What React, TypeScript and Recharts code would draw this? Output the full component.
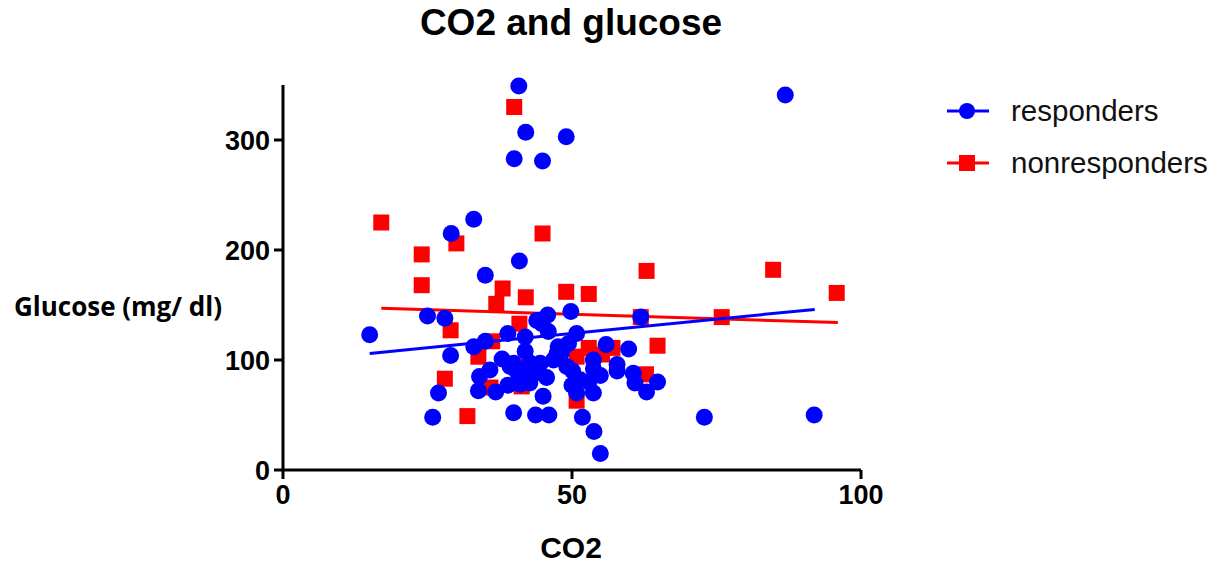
import { ScatterChart, Scatter, XAxis, YAxis } from "recharts";

const TITLE = "CO2 and glucose";
const X_LABEL = "CO2";
const Y_LABEL = "Glucose (mg/ dl)";
const SERIES = ["responders", "nonresponders"];
const X_TICKS = [0, 50, 100];
const Y_TICKS = [0, 100, 200, 300];

// [CO2, glucose]
const responders = [
    [40.8, 349], [86.9, 341], [42.0, 307], [49.0, 303], [40.0, 283], [44.9, 281], [33.0, 228], [29.1, 215],
    [40.9, 190], [35.0, 177], [15.0, 123], [25.0, 140], [28.0, 138], [29.0, 104], [26.9, 70], [25.9, 48],
    [33.0, 112], [35.0, 117], [38.9, 124], [41.9, 121], [43.9, 136], [45.8, 141], [44.8, 133], [45.9, 126],
    [49.8, 144], [50.8, 124], [61.9, 139], [55.9, 114], [59.8, 110], [57.8, 96], [57.8, 90], [53.7, 100],
    [53.7, 92], [54.9, 86], [60.6, 88], [60.9, 79], [62.9, 71], [64.8, 80], [52.9, 80], [53.7, 70],
    [50.8, 70], [50.0, 77], [47.6, 112], [47.4, 106], [46.8, 100], [49.1, 94], [50.1, 90], [45.6, 84],
    [45.0, 67], [43.7, 50], [46.0, 50], [51.8, 48], [53.8, 35], [54.9, 15], [72.9, 48], [91.9, 50],
    [39.9, 52], [33.8, 72], [36.8, 71], [34.0, 85], [35.8, 91], [37.9, 101], [39.3, 94], [40.5, 89],
    [41.9, 108], [41.9, 89], [38.9, 77], [41.0, 78], [42.7, 79], [43.6, 88], [44.5, 97], [42.8, 97],
    [49.4, 115], [51.4, 82], [39.9, 97], [48.2, 107],
];

const nonresponders = [
    [40.0, 330], [17.0, 225], [24.0, 196], [30.0, 206], [44.9, 215], [24.0, 168], [38.0, 165], [49.0, 162],
    [52.9, 160], [62.9, 181], [84.8, 182], [95.8, 161], [75.9, 139], [36.9, 151], [42.0, 157], [29.0, 127],
    [40.9, 133], [36.2, 117], [33.8, 103], [28.0, 83], [31.9, 49], [50.8, 63], [64.8, 113], [61.9, 139],
    [62.8, 87], [52.9, 111], [57.0, 111], [50.8, 103], [35.9, 75], [41.3, 76], [42.0, 94], [55.2, 105],
];

// fitted line end points as drawn
const responderFit = [[15, 106], [92, 146]];
const nonresponderFit = [[17, 147], [96, 134]];

const BLUE = "#0000ff";
const RED = "#ff0000";

const toPoints = (arr: number[][]) => arr.map(([x, y]) => ({ x, y }));

const Dot = (p: any) => <circle cx={p.cx} cy={p.cy} r={8.5} fill={BLUE} />;
const Square = (p: any) => <rect x={p.cx - 8} y={p.cy - 8} width={16} height={16} fill={RED} />;
const Nothing = () => <g />;

const axisStyle = {
    axisLine: { stroke: "#000", strokeWidth: 3 },
    tickLine: { stroke: "#000", strokeWidth: 3 },
    tickSize: 9,
    tick: { fill: "#000", fontSize: 27, fontWeight: 700, fontFamily: "Liberation Sans, Arial" },
};

export default function App() {
    return (
        <div style={{ position: "relative", width: 1217, height: 558, fontFamily: "Liberation Sans, Arial" }}>
            <ScatterChart width={1217} height={558} margin={{ top: 77, left: 195, right: 364, bottom: 36 }}>
                <XAxis
                    type="number"
                    dataKey="x"
                    domain={[0, 100]}
                    ticks={X_TICKS}
                    height={60}
                    tickMargin={6}
                    {...axisStyle}
                />
                <YAxis
                    type="number"
                    dataKey="y"
                    domain={[0, 350]}
                    ticks={Y_TICKS}
                    width={80}
                    tickMargin={4}
                    {...axisStyle}
                />
                <Scatter name={SERIES[1]} data={toPoints(nonresponders)} shape={Square} isAnimationActive={false} />
                <Scatter data={toPoints(nonresponderFit)} line={{ stroke: RED, strokeWidth: 3 }} shape={Nothing} legendType="none" isAnimationActive={false} />
                <Scatter data={toPoints(responderFit)} line={{ stroke: BLUE, strokeWidth: 3 }} shape={Nothing} legendType="none" isAnimationActive={false} />
                <Scatter name={SERIES[0]} data={toPoints(responders)} shape={Dot} isAnimationActive={false} />
            </ScatterChart>

            <div style={{ position: "absolute", left: 263, width: 600, top: -4, textAlign: "center", fontSize: 37, lineHeight: "37px", fontWeight: 700 }}>
                {TITLE}
            </div>
            <div style={{ position: "absolute", left: 363, width: 400, top: 525, textAlign: "center", fontSize: 30, lineHeight: "30px", fontWeight: 700 }}>
                {X_LABEL}
            </div>
            <div style={{ position: "absolute", left: 0, width: 214, top: 284, textAlign: "right", fontSize: 26, lineHeight: "28px", fontWeight: 700, fontFamily: "Open Sans" }}>
                {Y_LABEL}
            </div>

            {SERIES.map((name, i) => (
                <div key={name} style={{ position: "absolute", left: 937, top: 85 + i * 52, height: 36, display: "flex", alignItems: "center" }}>
                    <svg width={46} height={20}>
                        <line x1={2} x2={44} y1={10} y2={10} stroke={i === 0 ? BLUE : RED} strokeWidth={3} />
                        {i === 0 ? <circle cx={22} cy={10} r={8} fill={BLUE} /> : <rect x={14} y={2} width={16} height={16} fill={RED} />}
                    </svg>
                    <span style={{ marginLeft: 20, fontSize: 29.5, lineHeight: "36px", color: "#111" }}>{name}</span>
                </div>
            ))}
        </div>
    );
}
